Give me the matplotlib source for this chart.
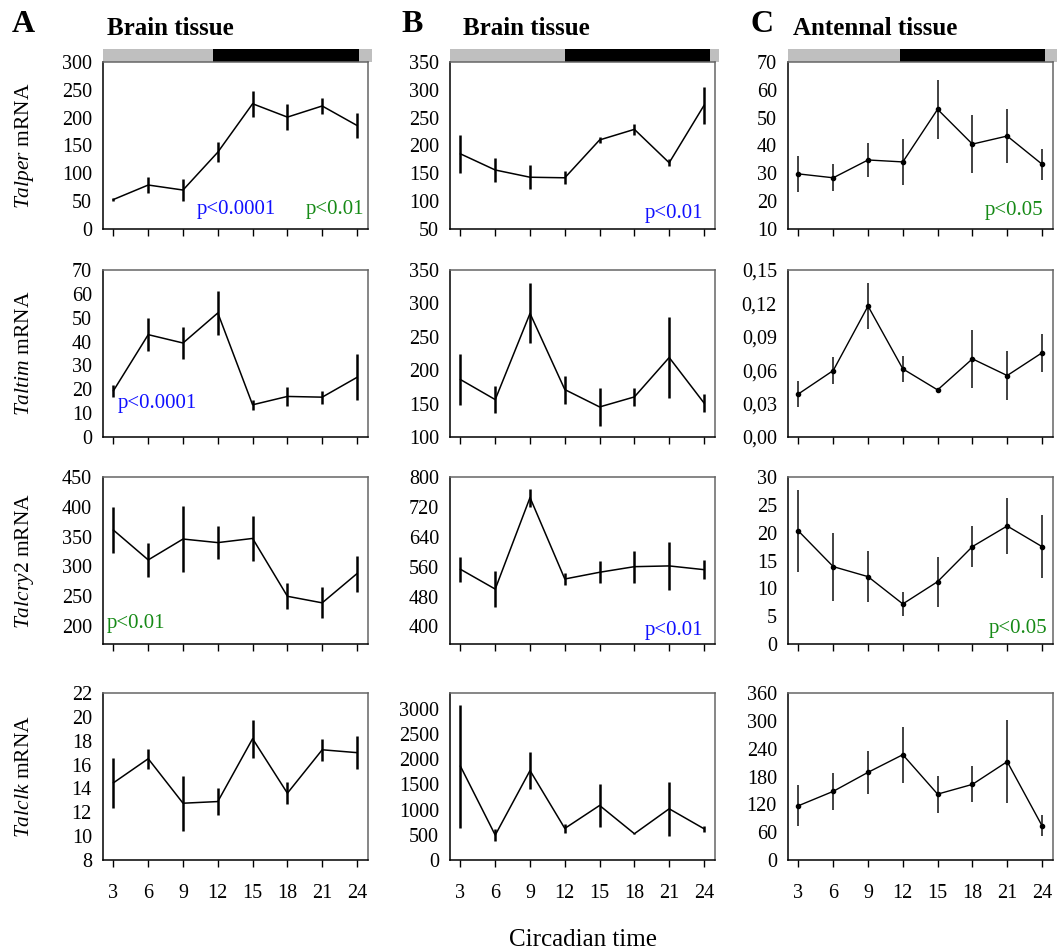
import matplotlib
matplotlib.use("Agg")
import matplotlib.pyplot as plt
import matplotlib.transforms as mtransforms
import numpy as np

plt.rcParams['font.family'] = ['Liberation Serif', 'DejaVu Serif']
plt.rcParams['mathtext.fontset'] = 'custom'
plt.rcParams['mathtext.rm'] = 'Liberation Serif'
plt.rcParams['mathtext.it'] = 'Liberation Serif:italic'

# circadian time points
ct = [3, 6, 9, 12, 15, 18, 21, 24]

# row 1: Talper
talper_brain_a = [53, 79, 70, 138, 225, 201, 221, 186]
talper_brain_a_err = [3, 14, 19, 18, 23, 23, 14, 23]
talper_brain_b = [185, 156, 143, 142, 210, 229, 169, 272]
talper_brain_b_err = [34, 21, 22, 12, 5, 10, 6, 33]
talper_ant = [29.8, 28.4, 34.8, 34.1, 53.0, 40.5, 43.4, 33.3]
talper_ant_err = [6.5, 4.8, 6.0, 8.2, 10.6, 10.4, 9.6, 5.6]

# row 2: Taltim
taltim_brain_a = [19.4, 42.9, 39.4, 52.0, 13.5, 17.0, 16.7, 25.0]
taltim_brain_a_err = [2.5, 6.8, 6.6, 9.2, 2.0, 4.0, 2.7, 9.6]
taltim_brain_b = [186, 156, 285, 171, 145, 160, 219, 151]
taltim_brain_b_err = [38, 20, 45, 21, 29, 13, 61, 13]
taltim_ant = [0.0387, 0.0597, 0.1176, 0.0612, 0.0423, 0.0702, 0.0552, 0.0756]
taltim_ant_err = [0.012, 0.0118, 0.0203, 0.0114, 0.002, 0.026, 0.0219, 0.0168]

# row 3: Talcry2
talcry2_brain_a = [361, 311, 346, 340, 347, 250, 239, 288]
talcry2_brain_a_err = [38, 28, 55, 28, 38, 22, 26, 30]
talcry2_brain_b = [553, 500, 745, 527, 545, 560, 562, 552]
talcry2_brain_b_err = [34, 49, 24, 16, 29, 43, 64, 26]
talcry2_ant = [20.3, 13.9, 12.1, 7.2, 11.2, 17.5, 21.2, 17.5]
talcry2_ant_err = [7.3, 6.1, 4.6, 2.1, 4.5, 3.7, 5.1, 5.7]

# row 4: Talclk
talclk_brain_a = [14.47, 16.49, 12.76, 12.9, 18.17, 13.6, 17.24, 17.0]
talclk_brain_a_err = [2.1, 0.83, 2.3, 1.1, 1.6, 0.93, 0.91, 1.4]
talclk_brain_b = [1859, 494, 1773, 626, 1081, 521, 1015, 620]
talclk_brain_b_err = [1220, 122, 370, 92, 430, 15, 537, 56]
talclk_ant = [117, 148, 189, 227, 142, 163, 212, 74]
talclk_ant_err = [44, 40, 46, 60, 40, 39, 89, 22]

genes = ['Talper', 'Taltim', 'Talcry2', 'Talclk']
panel_letters = ['A', 'B', 'C']
column_titles = ['Brain tissue', 'Brain tissue', 'Antennal tissue']

values = [
    [talper_brain_a, talper_brain_b, talper_ant],
    [taltim_brain_a, taltim_brain_b, taltim_ant],
    [talcry2_brain_a, talcry2_brain_b, talcry2_ant],
    [talclk_brain_a, talclk_brain_b, talclk_ant],
]
errors = [
    [talper_brain_a_err, talper_brain_b_err, talper_ant_err],
    [taltim_brain_a_err, taltim_brain_b_err, taltim_ant_err],
    [talcry2_brain_a_err, talcry2_brain_b_err, talcry2_ant_err],
    [talclk_brain_a_err, talclk_brain_b_err, talclk_ant_err],
]

ylims = [
    [(0, 300), (50, 350), (10, 70)],
    [(0, 70), (100, 350), (0, 0.15)],
    [(170, 450), (353, 800), (0, 30)],
    [(8, 22), (0, 3310), (0, 360)],
]
yticks = [
    [np.arange(0, 301, 50), np.arange(50, 351, 50), np.arange(10, 71, 10)],
    [np.arange(0, 71, 10), np.arange(100, 351, 50), [0, 0.03, 0.06, 0.09, 0.12, 0.15]],
    [np.arange(200, 451, 50), np.arange(400, 801, 80), np.arange(0, 31, 5)],
    [np.arange(8, 23, 2), np.arange(0, 3001, 500), np.arange(0, 361, 60)],
]

# p-value annotations: (row, col, text, colour, x, y, ha)
blue = '#1010ff'
green = '#168a16'
pvals = [
    (0, 0, 'p<0.0001', blue, 0.355, 0.115, 'left'),
    (0, 0, 'p<0.01', green, 0.985, 0.115, 'right'),
    (0, 1, 'p<0.01', blue, 0.955, 0.095, 'right'),
    (0, 2, 'p<0.05', green, 0.965, 0.11, 'right'),
    (1, 0, 'p<0.0001', blue, 0.055, 0.2, 'left'),
    (2, 0, 'p<0.01', green, 0.015, 0.12, 'left'),
    (2, 1, 'p<0.01', blue, 0.955, 0.08, 'right'),
    (2, 2, 'p<0.05', green, 0.98, 0.09, 'right'),
]

# light/dark bar limits per column (circadian hours)
dark_start = [11.6, 12.0, 11.75]
dark_end = [24.2, 24.5, 24.25]

W, H = 1058, 949
fig = plt.figure(figsize=(W / 100, H / 100), dpi=100)

col_left = [103, 450, 788]
col_width = 265
row_top = [62, 270, 477, 693]
row_height = 167

axes = []
for r in range(4):
    row_axes = []
    for c in range(3):
        left = col_left[c] / W
        bottom = 1 - (row_top[r] + row_height) / H
        ax = fig.add_axes([left, bottom, col_width / W, row_height / H])
        row_axes.append(ax)
    axes.append(row_axes)

for r in range(4):
    for c in range(3):
        ax = axes[r][c]
        if c == 2:
            ax.errorbar(ct, values[r][c], yerr=errors[r][c], color='black', lw=1.0,
                        marker='o', ms=3, ecolor='#333333', elinewidth=1.3, capsize=0)
        else:
            ax.errorbar(ct, values[r][c], yerr=errors[r][c], color='black', lw=1.1,
                        ecolor='black', elinewidth=1.8, capsize=0)
        ax.set_xlim(2.1, 24.95)
        ax.set_ylim(*ylims[r][c])
        ax.set_xticks(ct)
        ax.set_yticks(yticks[r][c])
        if r == 1 and c == 2:
            ax.set_yticklabels([('%.2f' % v).replace('.', ',') for v in yticks[r][c]])
        ax.tick_params(axis='y', length=0, pad=8, labelsize=14.5)
        ax.tick_params(axis='x', direction='out', length=5, width=1, pad=12, labelsize=14.5)
        if r < 3:
            ax.tick_params(axis='x', labelbottom=False)
        ax.spines['left'].set_color('black')
        ax.spines['bottom'].set_color('black')
        ax.spines['top'].set_color('#666666')
        ax.spines['right'].set_color('#666666')
        for s in ax.spines.values():
            s.set_linewidth(1.1)

        if r == 0:
            trans = mtransforms.blended_transform_factory(ax.transData, ax.transAxes)
            bh = 13 / row_height
            ax.add_patch(plt.Rectangle((2.1, 1.0), dark_start[c] - 2.1, bh, transform=trans,
                                       color='#bfbfbf', clip_on=False, lw=0))
            ax.add_patch(plt.Rectangle((dark_start[c], 1.0), dark_end[c] - dark_start[c], bh,
                                       transform=trans, color='black', clip_on=False, lw=0))
            ax.add_patch(plt.Rectangle((dark_end[c], 1.0), 25.3 - dark_end[c], bh, transform=trans,
                                       color='#bfbfbf', clip_on=False, lw=0))

for (r, c, txt, col, x, y, ha) in pvals:
    axes[r][c].text(x, y, txt, color=col, fontsize=15, ha=ha, va='center',
                    transform=axes[r][c].transAxes)

# gene labels
for r in range(4):
    yc = 1 - (row_top[r] + row_height / 2) / H
    fig.text(25 / W, yc, r'$\mathit{' + genes[r] + '}$ mRNA', rotation=90, ha='center',
             va='center', fontsize=15.5)

# panel letters and titles
letter_x = [12, 401, 751]
title_x = [107, 463, 793]
for c in range(3):
    fig.text(letter_x[c] / W, 1 - 32 / H, panel_letters[c], fontsize=23, fontweight='bold',
             ha='left', va='baseline')
    fig.text(title_x[c] / W, 1 - 35 / H, column_titles[c], fontsize=18, fontweight='bold',
             ha='left', va='baseline')

fig.text(583 / W, 1 - 946 / H, 'Circadian time', fontsize=18, ha='center', va='baseline')

fig.savefig('out.png', dpi=100)
